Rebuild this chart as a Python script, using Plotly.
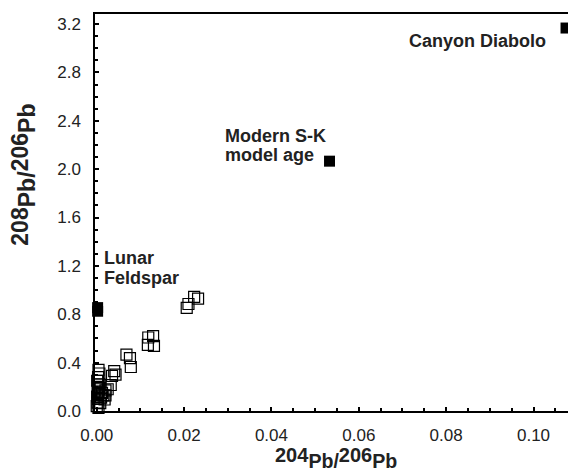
import plotly.graph_objects as go

# Hollow squares: measured samples (204Pb/206Pb, 208Pb/206Pb)
sample_x = [0.0223, 0.0232, 0.0210, 0.0206,
            0.0118, 0.0129, 0.0117, 0.0131,
            0.0068, 0.0076, 0.0078,
            0.0040, 0.0035, 0.0043, 0.0032, 0.0025, 0.0020,
            0.0000, 0.0002, 0.0003, 0.0001, 0.0004, 0.0002, 0.0005, 0.0003,
            0.0006, 0.0001, 0.0004, 0.0008, 0.0010, 0.0012, 0.0009, 0.0015,
            0.0018, 0.0020, 0.0003, 0.0004, 0.0006]
sample_y = [0.943, 0.930, 0.885, 0.852,
            0.608, 0.620, 0.546, 0.538,
            0.466, 0.438, 0.364,
            0.330, 0.290, 0.300, 0.215, 0.180, 0.130,
            0.040, 0.070, 0.100, 0.120, 0.140, 0.160, 0.180, 0.200,
            0.220, 0.250, 0.025, 0.065, 0.110, 0.150, 0.190, 0.130,
            0.095, 0.170, 0.280, 0.340, 0.310]

# Filled squares: reference materials
ref_x = [0.0002, 0.0002, 0.0533, 0.10745]
ref_y = [0.825, 0.855, 2.066, 3.167]

x_major = [0.00, 0.02, 0.04, 0.06, 0.08, 0.10]
x_major_text = ["0.00", "0.02", "0.04", "0.06", "0.08", "0.10"]
y_major = [0.0, 0.4, 0.8, 1.2, 1.6, 2.0, 2.4, 2.8, 3.2]
y_major_text = ["0.0", "0.4", "0.8", "1.2", "1.6", "2.0", "2.4", "2.8", "3.2"]

FONT = "Liberation Sans, Arial, sans-serif"
TXT = "#222"

fig = go.Figure()
fig.add_trace(go.Scatter(
    x=sample_x, y=sample_y, mode="markers", cliponaxis=False,
    marker=dict(symbol="square-open", size=11, color="black", line=dict(width=1.2)),
    showlegend=False))
fig.add_trace(go.Scatter(
    x=ref_x, y=ref_y, mode="markers", cliponaxis=False,
    marker=dict(symbol="square", size=11, color="black"),
    showlegend=False))

bf = dict(family=FONT, size=18, color=TXT)

def label(x, y, text, xanchor, xshift, yshift):
    fig.add_annotation(x=x, y=y, text=f"<b>{text}</b>", showarrow=False,
                       xanchor=xanchor, yanchor="middle", xshift=xshift, yshift=yshift,
                       font=bf)

label(ref_x[0], ref_y[0], "Lunar", "left", 4, 53)
label(ref_x[0], ref_y[0], "Feldspar", "left", 4, 33)
label(ref_x[2], ref_y[2], "Modern S-K", "left", -107, 25)
label(ref_x[2], ref_y[2], "model age", "left", -107, 6)
label(ref_x[3], ref_y[3], "Canyon Diabolo", "right", -18, -13)

def iso_title(a, b, num_size):
    s = f"font-size:{num_size}px"
    return (f"<b><span style='{s}'>{a}</span><sub>Pb/</sub>"
            f"<span style='{s}'>{b}</span><sub>Pb</sub></b>")

fig.add_annotation(xref="paper", yref="paper", x=0.51, y=0, yanchor="top", yshift=-31,
                   text=iso_title("204", "206", 20), showarrow=False,
                   font=dict(family=FONT, size=28, color=TXT))
fig.add_annotation(xref="paper", yref="paper", x=0, y=0.594, xanchor="right", xshift=-53,
                   text=iso_title("208", "206", 23), showarrow=False, textangle=-90,
                   font=dict(family=FONT, size=33, color=TXT))

fig.update_layout(
    width=568, height=476,
    margin=dict(l=95, r=0, t=14, b=65),
    paper_bgcolor="white", plot_bgcolor="white",
    font=dict(family=FONT, size=17, color=TXT),
    xaxis=dict(range=[-0.0004, 0.1079], showgrid=False, zeroline=False,
               showline=True, linecolor="black", linewidth=1.5, mirror=True,
               tickmode="array", tickvals=x_major, ticktext=x_major_text,
               ticks="inside", ticklen=4, tickwidth=1.5, tickcolor="black",
               ticklabelstandoff=8,
               minor=dict(dtick=0.005, tick0=0, ticks="inside", ticklen=3,
                          tickwidth=1.5, tickcolor="black", showgrid=False)),
    yaxis=dict(range=[0, 3.283], showgrid=False, zeroline=False,
               showline=True, linecolor="black", linewidth=1.5,
               tickmode="array", tickvals=y_major, ticktext=y_major_text,
               ticks="inside", ticklen=4, tickwidth=1.5, tickcolor="black",
               ticklabelstandoff=9,
               minor=dict(dtick=0.1, tick0=0, ticks="inside", ticklen=3,
                          tickwidth=1.5, tickcolor="black", showgrid=False)),
)
fig.write_html("out.html")
